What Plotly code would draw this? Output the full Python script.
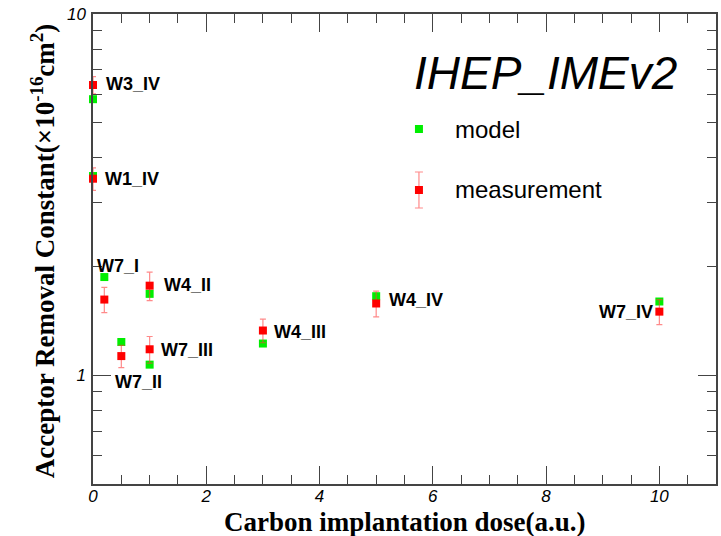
import math
import plotly.graph_objects as go

# ---- data ----
labels = ["W3_IV", "W1_IV", "W7_I", "W4_II", "W7_II", "W7_III", "W4_III", "W4_IV", "W7_IV"]
dose = [0.0, 0.0, 0.2, 1.0, 0.5, 1.0, 3.0, 5.0, 10.0]
model = [5.81, 3.56, 1.87, 1.68, 1.236, 1.07, 1.224, 1.655, 1.60]
measurement = [6.36, 3.50, 1.62, 1.77, 1.13, 1.18, 1.33, 1.58, 1.50]
meas_err = [0.35, 0.25, 0.13, 0.16, 0.08, 0.10, 0.10, 0.13, 0.12]

x_ticks = [0, 2, 4, 6, 8, 10]
y_ticks = [1, 10]
y_minor = [0.5, 0.6, 0.7, 0.8, 0.9, 2, 3, 4, 5, 6, 7, 8, 9]

# label placement: (xanchor, xshift, yshift) relative to the measurement point
label_pos = {
    "W3_IV": ("left", 11, 1),
    "W1_IV": ("left", 10, 0),
    "W7_I": ("center", 14, 34),
    "W4_II": ("left", 12, 1),
    "W7_II": ("center", 17, -26),
    "W7_III": ("left", 9, -1),
    "W4_III": ("left", 9, -1),
    "W4_IV": ("left", 11, 3),
    "W7_IV": ("right", -4, 0),
}

GREEN = "#00ee00"
RED = "#ff0000"
ERRC = "rgba(255,60,60,0.6)"
FRAME = "#444444"

# plot-area pixel geometry helpers (for text placed in the margins)
L, R, T, B = 93, 718, 14, 484


def px(xp):
    return (xp - L) / (R - L)


def py(yp):
    return (B - yp) / (B - T)


fig = go.Figure()

fig.add_trace(go.Scatter(
    x=dose, y=model, mode="markers", name="model",
    marker=dict(symbol="square", size=8, color=GREEN, line=dict(width=0)),
    cliponaxis=False, showlegend=False,
))
fig.add_trace(go.Scatter(
    x=dose, y=measurement, mode="markers", name="measurement",
    marker=dict(symbol="square", size=8, color=RED, line=dict(width=0)),
    error_y=dict(type="data", array=meas_err, color=ERRC, thickness=1.2, width=3),
    cliponaxis=False, showlegend=False,
))

# manual legend on a pixel-mapped overlay axis
fig.add_trace(go.Scatter(
    x=[420], y=[129], mode="markers", xaxis="x2", yaxis="y2",
    marker=dict(symbol="square", size=8, color=GREEN), showlegend=False,
    cliponaxis=False,
))
fig.add_trace(go.Scatter(
    x=[420], y=[190], mode="markers", xaxis="x2", yaxis="y2",
    marker=dict(symbol="square", size=8, color=RED),
    error_y=dict(type="data", array=[18], color=ERRC, thickness=1.2, width=4),
    showlegend=False, cliponaxis=False,
))

annotations = []
label_font = dict(family="Liberation Sans", size=18, color="black", weight="bold")
for lab, xv, yv in zip(labels, dose, measurement):
    xa, xs, ys = label_pos[lab]
    annotations.append(dict(
        x=xv, y=math.log10(yv), xref="x", yref="y", text=lab, showarrow=False,
        xanchor=xa, yanchor="middle", xshift=xs, yshift=ys, font=label_font,
    ))

annotations.append(dict(
    x=px(413), y=py(73), xref="paper", yref="paper", text="IHEP_IMEv2", showarrow=False,
    xanchor="left", yanchor="middle",
    font=dict(family="Liberation Sans", size=46, color="black", style="italic"),
))
annotations.append(dict(
    x=px(454), y=py(129), xref="paper", yref="paper", text="model", showarrow=False,
    xanchor="left", yanchor="middle",
    font=dict(family="Liberation Sans", size=24, color="black"),
))
annotations.append(dict(
    x=px(454), y=py(189), xref="paper", yref="paper", text="measurement", showarrow=False,
    xanchor="left", yanchor="middle",
    font=dict(family="Liberation Sans", size=24, color="black"),
))

# axis titles
title_font = dict(family="Liberation Serif", size=27, color="black", weight="bold")
annotations.append(dict(
    x=px(406), y=py(522), xref="paper", yref="paper", text="Carbon implantation dose(a.u.)",
    showarrow=False, xanchor="center", yanchor="middle", font=title_font,
))
annotations.append(dict(
    x=px(43), y=py(251), xref="paper", yref="paper",
    text="Acceptor Removal Constant(×10<sup>-16</sup>cm<sup>2</sup>)",
    showarrow=False, xanchor="center", yanchor="middle", textangle=-90, font=title_font,
))

tick_font = dict(family="Liberation Sans", size=17, color="black", style="italic")

fig.update_layout(
    width=721, height=536,
    margin=dict(l=L, r=721 - R, t=T, b=536 - B),
    paper_bgcolor="white", plot_bgcolor="white",
    showlegend=False,
    annotations=annotations,
    xaxis=dict(
        range=[0, 11], tickmode="array", tickvals=x_ticks,
        ticktext=[str(v) for v in x_ticks],
        ticks="inside", ticklen=18, tickwidth=1.2, tickcolor=FRAME,
        minor=dict(ticks="inside", dtick=0.5, ticklen=9, tickwidth=1.2, tickcolor=FRAME),
        showline=True, linecolor=FRAME, linewidth=1.5, mirror="ticks",
        showgrid=False, zeroline=False, tickfont=tick_font, ticklabelstandoff=-4,
    ),
    yaxis=dict(
        type="log", range=[math.log10(0.5), 1], tickmode="array", tickvals=y_ticks,
        ticktext=[str(v) for v in y_ticks],
        ticks="inside", ticklen=18, tickwidth=1.2, tickcolor=FRAME,
        minor=dict(ticks="inside", tickvals=y_minor, ticklen=9, tickwidth=1.2, tickcolor=FRAME),
        showline=True, linecolor=FRAME, linewidth=1.5, mirror="ticks",
        showgrid=False, zeroline=False, tickfont=tick_font, ticklabelstandoff=2,
    ),
    xaxis2=dict(range=[L, R], overlaying="x", visible=False, fixedrange=True),
    yaxis2=dict(range=[B, T], overlaying="y", visible=False, fixedrange=True),
)

fig.write_html("out.html")
